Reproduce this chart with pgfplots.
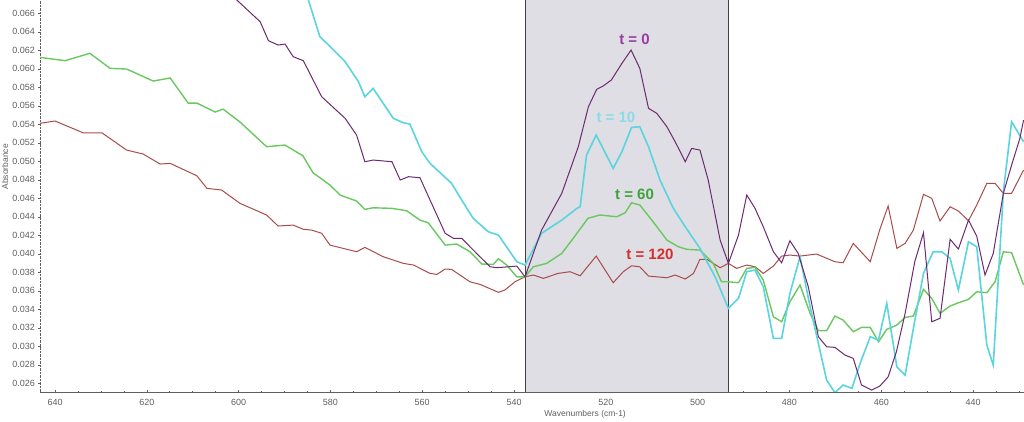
\documentclass[border=0pt]{standalone}
\usepackage{fontspec}
\setmainfont{Liberation Sans}
\usepackage{pgfplots}
\usepackage{pgfplotstable}
\pgfplotsset{compat=1.18}
\definecolor{cpurple}{RGB}{108,42,112}
\definecolor{ccyan}{RGB}{90,212,222}
\definecolor{cgreen}{RGB}{105,200,95}
\definecolor{cred}{RGB}{170,75,75}
\definecolor{bandc}{RGB}{222,222,228}
\definecolor{lpurple}{RGB}{155,60,165}
\definecolor{lcyan}{RGB}{140,220,230}
\definecolor{lgreen}{RGB}{60,165,60}
\definecolor{lred}{RGB}{215,45,45}
\definecolor{axc}{RGB}{95,95,95}

\pgfplotstableread{
w a
643.3 0.06124
637.8 0.06088
632.4 0.06168
628.0 0.06005
624.4 0.05998
618.6 0.05868
614.9 0.05901
611.0 0.05630
609.1 0.05630
605.1 0.05533
603.4 0.05565
599.7 0.05425
593.9 0.05158
589.9 0.05176
586.0 0.05060
583.8 0.04877
580.1 0.04744
577.9 0.04636
574.3 0.04571
572.5 0.04481
570.7 0.04498
566.6 0.04492
563.4 0.04466
560.5 0.04365
558.7 0.04336
555.0 0.04095
552.5 0.04106
549.6 0.04023
547.0 0.03890
544.5 0.03886
543.4 0.03947
541.6 0.03879
539.4 0.03752
537.6 0.03752
535.8 0.03861
532.9 0.03897
529.6 0.04005
527.1 0.04168
523.9 0.04384
521.3 0.04420
517.6 0.04401
515.8 0.04444
514.4 0.04552
512.6 0.04528
509.7 0.04347
506.7 0.04149
504.2 0.04077
502.4 0.04049
499.5 0.04041
496.6 0.03897
494.8 0.03698
493.3 0.03698
491.1 0.03688
489.3 0.03843
487.5 0.03854
485.7 0.03717
483.5 0.03320
481.7 0.03266
479.9 0.03482
477.7 0.03663
475.5 0.03357
473.7 0.03169
471.9 0.03169
470.1 0.03328
468.3 0.03284
466.1 0.03158
464.3 0.03205
462.4 0.03205
460.6 0.03050
458.8 0.03184
456.6 0.03230
454.8 0.03313
453.0 0.03328
450.8 0.03616
449.0 0.03519
447.2 0.03357
445.0 0.03436
443.2 0.03471
441.0 0.03508
439.2 0.03590
437.0 0.03580
435.2 0.03698
433.4 0.04023
431.6 0.04012
429.0 0.03665
}\greentab

\pgfplotstableread{
w a
643.3 0.05411
640.0 0.05436
633.9 0.05309
629.8 0.05309
624.4 0.05122
620.8 0.05079
617.1 0.04971
614.9 0.04978
609.1 0.04844
606.9 0.04708
603.7 0.04690
599.7 0.04546
593.9 0.04420
591.4 0.04301
588.1 0.04311
585.9 0.04265
584.1 0.04257
581.9 0.04222
580.1 0.04095
574.3 0.04023
572.5 0.04070
568.5 0.03969
564.1 0.03897
561.9 0.03879
558.3 0.03789
556.8 0.03778
555.0 0.03836
553.6 0.03832
549.6 0.03698
547.4 0.03670
543.4 0.03584
542.0 0.03609
539.8 0.03698
537.6 0.03752
535.8 0.03771
533.6 0.03735
530.4 0.03789
527.8 0.03807
525.6 0.03763
522.1 0.03976
518.4 0.03688
516.2 0.03807
514.4 0.03871
512.6 0.03860
510.7 0.03760
506.7 0.03742
504.9 0.03771
502.7 0.03728
500.9 0.03789
499.5 0.03941
498.0 0.03941
495.1 0.03850
493.3 0.03897
491.5 0.03843
489.3 0.03879
487.5 0.03861
485.7 0.03789
483.5 0.03868
481.7 0.03976
479.9 0.03987
477.7 0.03976
474.1 0.03998
470.1 0.03915
468.3 0.03904
466.1 0.04113
462.4 0.03915
460.3 0.04265
458.5 0.04517
456.6 0.04059
454.8 0.04113
453.0 0.04257
450.8 0.04643
449.0 0.04600
447.2 0.04355
445.0 0.04509
443.2 0.04463
441.0 0.04358
439.2 0.04528
437.0 0.04762
435.2 0.04762
433.4 0.04654
431.6 0.04654
429.0 0.04906
}\redtab

\pgfplotstableread{
w a
604.9 0.06960
600.4 0.06744
595.3 0.06509
593.5 0.06304
591.4 0.06257
589.9 0.06268
588.1 0.06131
585.9 0.06088
581.9 0.05698
576.8 0.05465
574.3 0.05284
572.5 0.04996
570.7 0.05014
566.6 0.04996
564.8 0.04798
563.0 0.04834
560.5 0.04823
558.3 0.04582
555.0 0.04222
553.2 0.04168
551.4 0.04168
547.8 0.03987
545.2 0.03861
543.8 0.03850
539.4 0.03868
537.6 0.03752
534.0 0.04257
529.6 0.04654
526.0 0.05158
523.8 0.05590
522.0 0.05778
520.6 0.05814
518.8 0.05879
516.5 0.06059
514.5 0.06203
512.6 0.06005
510.7 0.05573
508.9 0.05519
506.7 0.05374
504.9 0.05212
502.7 0.04996
501.3 0.05140
499.5 0.05122
497.7 0.04798
495.1 0.04149
493.3 0.03897
491.1 0.04203
489.3 0.04636
487.5 0.04492
485.7 0.04293
483.5 0.04023
481.7 0.03904
479.9 0.04142
478.1 0.04005
475.9 0.03645
473.7 0.03104
471.9 0.02996
470.1 0.02989
467.9 0.02906
466.1 0.02870
464.3 0.02582
462.1 0.02528
460.3 0.02571
458.5 0.02671
456.7 0.02942
454.8 0.03357
452.7 0.03915
450.8 0.04228
449.0 0.03266
447.2 0.03303
445.0 0.04157
443.2 0.04052
441.0 0.04365
439.2 0.04192
437.4 0.03771
435.6 0.04005
433.4 0.04654
431.6 0.04960
429.8 0.05249
429.0 0.05446
}\purpletab

\pgfplotstableread{
w a
586.6 0.06960
584.8 0.06744
582.3 0.06347
580.8 0.06276
576.8 0.06077
573.9 0.05861
572.5 0.05698
570.7 0.05789
566.3 0.05465
564.1 0.05417
562.7 0.05403
560.1 0.05104
558.3 0.04978
553.6 0.04762
551.4 0.04582
548.9 0.04384
545.6 0.04239
543.4 0.04203
539.4 0.03915
537.6 0.03879
534.0 0.04222
529.6 0.04365
526.3 0.04492
525.6 0.04509
524.2 0.05068
522.1 0.05284
518.4 0.04924
516.5 0.05104
514.4 0.05367
512.6 0.05374
510.7 0.05158
508.2 0.04798
505.3 0.04492
502.7 0.04293
499.5 0.04059
496.2 0.03752
493.3 0.03411
491.1 0.03519
489.3 0.03807
487.5 0.03825
485.7 0.03645
483.5 0.03086
481.7 0.03086
479.9 0.03573
477.7 0.03969
475.5 0.03428
473.7 0.03032
471.9 0.02636
470.1 0.02500
468.3 0.02582
466.4 0.02546
464.6 0.02816
462.4 0.03104
460.6 0.03068
458.8 0.03465
456.6 0.02779
454.8 0.02690
453.0 0.03194
450.8 0.03789
448.7 0.04023
446.8 0.04023
445.0 0.03951
443.2 0.03609
441.0 0.04131
439.2 0.04077
437.0 0.03014
435.6 0.02798
433.4 0.04671
431.6 0.05428
429.0 0.05212
}\cyantab

\begin{document}
\begin{tikzpicture}
\begin{axis}[
  at={(40pt,29.3pt)}, anchor=south west,
  scale only axis, width=984pt, height=391.7pt,
  xmin=-643.27, xmax=-428.9,
  ymin=0.0251, ymax=0.06744,
  axis x line*=bottom, axis y line*=left,
  x axis line style={axc, -},
  y axis line style={axc, densely dotted, -},
  xtick={-640,-620,-600,-580,-560,-540,-520,-500,-480,-460,-440},
  xticklabels={640,620,600,580,560,540,520,500,480,460,440},
  minor xtick={-640,-635,...,-430},
  ytick={0.026,0.028,...,0.0665},
  scaled y ticks=false,
  yticklabel style={/pgf/number format/.cd, fixed, fixed zerofill, precision=3, assume math mode=true},
  xticklabel style={yshift=-2.5pt},
  tick label style={font=\fontsize{9}{10}\selectfont, text=axc},
  tick align=center,
  major tick length=3pt, minor tick length=2pt,
  tick style={axc, line width=0.6pt},
  xlabel={Wavenumbers (cm-1)},
  ylabel={Absorbance},
  every axis x label/.style={at={(axis description cs:0.554,0)}, anchor=center, yshift=-22.3pt, font=\fontsize{8.5}{9}\selectfont, text=axc},
  every axis y label/.style={at={(axis description cs:-0.0356,0.574)}, anchor=center, rotate=90, font=\fontsize{8.5}{9}\selectfont, text=axc},
  clip=true,
]
\fill[bandc] (axis cs:-537.6,0.0251) rectangle (axis cs:-493.3,0.06744);
\draw[black!75, line width=1pt] (axis cs:-537.6,0.0251) -- (axis cs:-537.6,0.06744);
\draw[black!75, line width=1pt] (axis cs:-493.3,0.0251) -- (axis cs:-493.3,0.06744);
\addplot[cred, line width=1pt] table[x expr=-\thisrow{w}, y=a] {\redtab};
\addplot[cgreen, line width=1.4pt] table[x expr=-\thisrow{w}, y=a] {\greentab};
\addplot[ccyan, line width=1.6pt] table[x expr=-\thisrow{w}, y=a] {\cyantab};
\addplot[cpurple, line width=1pt] table[x expr=-\thisrow{w}, y=a] {\purpletab};
\node[font=\fontsize{15}{17}\selectfont\bfseries, text=lpurple] at (axis cs:-513.75,0.06322) {t = 0};
\node[font=\fontsize{15}{17}\selectfont\bfseries, text=lcyan] at (axis cs:-517.8,0.05479) {t = 10};
\node[font=\fontsize{15}{17}\selectfont\bfseries, text=lgreen] at (axis cs:-513.75,0.04646) {t = 60};
\node[font=\fontsize{15}{17}\selectfont\bfseries, text=lred] at (axis cs:-510.4,0.03998) {t = 120};
\end{axis}
\pgfresetboundingbox
\path (0,0) rectangle (1024pt,421pt);
\end{tikzpicture}
\end{document}
